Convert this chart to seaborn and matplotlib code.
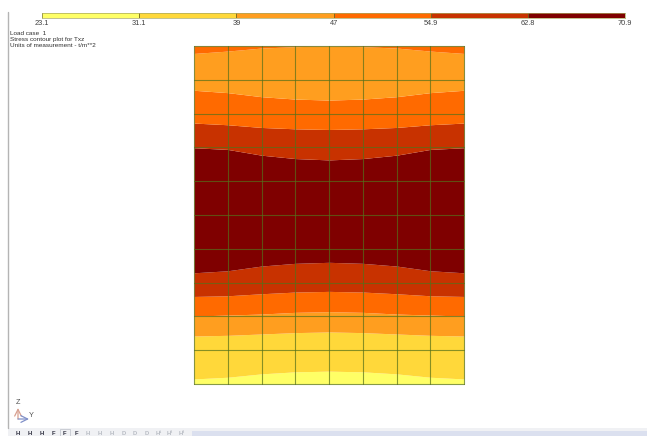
import numpy as np
import pandas as pd
import matplotlib
matplotlib.use('Agg')
import matplotlib.pyplot as plt
from matplotlib.colors import ListedColormap
import seaborn as sns

# legend classes
level_ticks = ['23.1', '31.1', '39', '47', '54.9', '62.8', '70.9']
level_mid = [27.1, 35.0, 43.0, 51.0, 58.9, 66.9]
level_colors = ['#ffff66', '#ffd83a', '#ff9e1f', '#ff6a00', '#c83200', '#7f0000']

# mesh lines along the plate
col_lines = [0, 1, 2, 3, 4, 5, 6, 7, 8]
row_lines = [0, 1, 2, 3, 4, 5, 6, 7, 8, 9, 10]

# contour boundaries, height in mesh rows at each column line, bottom to top
b_pale = [0.15, 0.20, 0.30, 0.36, 0.38, 0.36, 0.30, 0.20, 0.15]
b_yellow = [1.42, 1.44, 1.48, 1.52, 1.54, 1.52, 1.48, 1.44, 1.42]
b_light = [2.01, 2.04, 2.07, 2.12, 2.14, 2.12, 2.07, 2.04, 2.01]
b_orange = [2.59, 2.61, 2.67, 2.72, 2.74, 2.72, 2.67, 2.61, 2.59]
b_red = [3.29, 3.35, 3.49, 3.57, 3.60, 3.57, 3.49, 3.35, 3.29]
b_dark = [6.99, 6.94, 6.77, 6.67, 6.63, 6.67, 6.77, 6.94, 6.99]
b_red2 = [7.72, 7.67, 7.59, 7.55, 7.53, 7.55, 7.59, 7.67, 7.72]
b_orange2 = [8.69, 8.62, 8.50, 8.43, 8.40, 8.43, 8.50, 8.62, 8.69]
b_light2 = [9.78, 9.85, 9.94, 9.98, 10.0, 9.98, 9.94, 9.85, 9.78]
b_bottom = [0, 0, 0, 0, 0, 0, 0, 0, 0]
b_top = [10, 10, 10, 10, 10, 10, 10, 10, 10]

bands = [
    (b_bottom, b_pale, 0),
    (b_pale, b_yellow, 1),
    (b_yellow, b_light, 2),
    (b_light, b_orange, 3),
    (b_orange, b_red, 4),
    (b_red, b_dark, 5),
    (b_dark, b_red2, 4),
    (b_red2, b_orange2, 3),
    (b_orange2, b_light2, 2),
    (b_light2, b_top, 3),
]

text_lines = ['Load case  1', 'Stress contour plot for Txz', 'Units of measurement - t/m**2']
toolbar_items = ['H', 'H', 'H', 'F', 'F', 'F', 'H', 'H', 'H', 'D', 'D', 'D', 'H¹', 'H²', 'H³']

W, H = 647, 436
sns.set_theme(style='white')
plt.rcParams['font.family'] = ['Liberation Sans', 'DejaVu Sans']

fig = plt.figure(figsize=(W / 100, H / 100), dpi=100, facecolor='white')


def px_axes(x0, y0, x1, y1):
    # axes from pixel box, y counted from the top
    return fig.add_axes([x0 / W, 1 - y1 / H, (x1 - x0) / W, (y1 - y0) / H])


# overlay for text, line and toolbar
bg = px_axes(0, 0, W, H)
bg.set_xlim(0, W)
bg.set_ylim(H, 0)
bg.axis('off')
bg.plot([8, 8], [12, 428], color='#b4b4b4', lw=1)
bg.fill_between([8, W], 428, 436, color='#f0f1f4', lw=0)
bg.fill_between([192, W], 431, 436, color='#dbe0ef', lw=0)
for i, s in enumerate(text_lines):
    bg.text(10, 33.7 + i * 6.1, s, fontsize=4.6, color='#303030', va='center')
for i, s in enumerate(toolbar_items):
    c = '#303040' if i < 6 else '#b8bcc4'
    bg.text(18 + i * 11.7, 433, s, fontsize=4.2, color=c, ha='center', va='center', weight='bold')
bg.add_patch(plt.Rectangle((60, 429), 10, 7, fc='none', ec='#c4c8d0', lw=0.6))

# axis triad
bg.annotate('', xy=(18, 408), xytext=(18, 419), arrowprops=dict(arrowstyle='->', color='#d8a090', lw=0.9, shrinkA=0, shrinkB=0))
bg.annotate('', xy=(29, 419), xytext=(18, 419), arrowprops=dict(arrowstyle='->', color='#8090c8', lw=0.9, shrinkA=0, shrinkB=0))
bg.text(18, 402, 'Z', fontsize=5.2, color='#505050', ha='center', va='center')
bg.text(31, 415, 'Y', fontsize=5.2, color='#505050', ha='center', va='center')

# colour legend strip
strip = px_axes(42, 13, 625, 18)
sns.heatmap(pd.DataFrame([level_mid]), ax=strip, cmap=ListedColormap(level_colors),
            cbar=False, xticklabels=False, yticklabels=False, linewidths=0)
strip.set_xlim(0, len(level_mid))
for i in range(len(level_mid) + 1):
    strip.axvline(i, color='#6f6a20', lw=0.6)
strip.set_xticks(range(len(level_ticks)))
strip.set_xticklabels(level_ticks, fontsize=5.3, color='#404040', rotation=0)
strip.tick_params(axis='x', length=0, pad=1.5)
for sp in strip.spines.values():
    sp.set_visible(True)
    sp.set_color('#a8a860')
    sp.set_linewidth(0.5)

# contour plate
ax = px_axes(194, 46, 464, 384)
for low, high, k in bands:
    ax.fill_between(col_lines, low, high, color=level_colors[k], lw=0)

mesh = []
for c in col_lines:
    mesh.append(pd.DataFrame({'x': [c, c], 'z': [0, 10], 'line': f'c{c}'}))
for r in row_lines:
    mesh.append(pd.DataFrame({'x': [0, 8], 'z': [r, r], 'line': f'r{r}'}))
mesh = pd.concat(mesh, ignore_index=True)
sns.lineplot(data=mesh, x='x', y='z', units='line', estimator=None, sort=False,
             color='#55701a', alpha=0.7, lw=0.8, ax=ax, clip_on=False)
ax.set_xlim(0, 8)
ax.set_ylim(0, 10)
ax.axis('off')

fig.savefig('out.png', dpi=100)
